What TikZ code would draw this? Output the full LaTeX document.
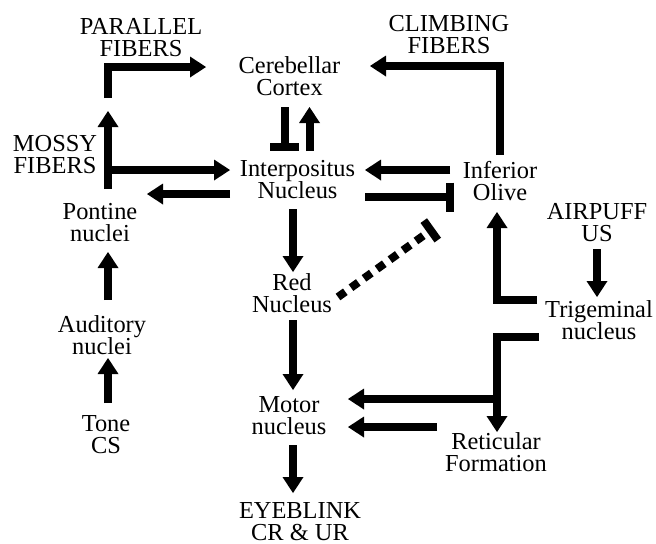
\documentclass[tikz,border=0pt]{standalone}
\usepackage{fontspec}
\setmainfont{Liberation Serif}
\usetikzlibrary{arrows.meta}
\newcommand{\twoline}[2]{\vtop{\baselineskip=11pt\lineskiplimit=-20pt\lineskip=0pt\halign{\hfil##\hfil\cr #1\cr #2\cr}}}
\begin{document}
\begin{tikzpicture}[x=0.5pt,y=-0.5pt,
  lbl/.style={anchor=base,inner sep=0pt,font=\fontsize{12.2}{11}\selectfont},
  conn/.style={line width=4pt, line join=miter, -{Triangle[width=10.5pt,length=8pt,line width=0pt]}},
  inhib/.style={line width=4pt, line join=miter, -{Bar[width=14.5pt]}},
  dotinh/.style={line width=4pt, dash pattern=on 4.5pt off 3.5pt, -{Bar[width=12pt]}},
  plain/.style={line width=4pt, line join=miter}]
\useasboundingbox (0,0) rectangle (656,543);
% labels
\node[lbl] (pf) at (141,34)   {\twoline{PARALLEL}{FIBERS}};
\node[lbl] (cf) at (449,31)   {\twoline{CLIMBING}{FIBERS}};
\node[lbl] (cc) at (289.5,73) {\twoline{Cerebellar}{Cortex}};
\node[lbl] (mf) at (55,151)   {\twoline{MOSSY}{FIBERS}};
\node[lbl] (ip) at (297.5,176){\twoline{Interpositus}{Nucleus}};
\node[lbl] (io) at (500,178)  {\twoline{Inferior}{Olive}};
\node[lbl] (pn) at (100,219)  {\twoline{Pontine}{nuclei}};
\node[lbl] (ap) at (597,219)  {\twoline{AIRPUFF}{US}};
\node[lbl] (rn) at (292,290)  {\twoline{Red}{Nucleus}};
\node[lbl] (tg) at (599,317)  {\twoline{Trigeminal}{nucleus}};
\node[lbl] (an) at (102,332)  {\twoline{Auditory}{nuclei}};
\node[lbl] (tc) at (106,431)  {\twoline{Tone}{CS}};
\node[lbl] (mn) at (289,412)  {\twoline{Motor}{nucleus}};
\node[lbl] (eb) at (300,518)  {\twoline{EYEBLINK}{CR \& UR}};
\node[lbl] (rf) at (496,449)  {\twoline{Reticular}{Formation}};
% connector end points
\coordinate (pfS) at (108,98);  \coordinate (pfC) at (108,67);  \coordinate (pfE) at (206,67);
\coordinate (mfS) at (108,189); \coordinate (mfE) at (108,111);
\coordinate (mfB) at (108,170); \coordinate (mfT) at (230,170);
\coordinate (ipL) at (230,194); \coordinate (pnR) at (147,194);
\coordinate (ccI) at (284.5,107); \coordinate (ipI) at (284.5,151);
\coordinate (ipU) at (309.5,151); \coordinate (ccU) at (309.5,107);
\coordinate (ipD) at (293,209); \coordinate (rnT) at (293,272);
\coordinate (rnD) at (293,320); \coordinate (mnT) at (293,390);
\coordinate (mnD) at (293,445); \coordinate (ebT) at (293,493);
\coordinate (tcT) at (108,403); \coordinate (anB) at (108,358);
\coordinate (anT) at (108,300); \coordinate (pnB) at (108,252);
\coordinate (ioL) at (450,170); \coordinate (ipR) at (365,170);
\coordinate (ipR2) at (365,197); \coordinate (ioL2) at (454,197);
\coordinate (ioT) at (500,155); \coordinate (cfC) at (500,66); \coordinate (ccR) at (370,66);
\coordinate (rnR) at (338,297); \coordinate (ioD) at (434,228);
\coordinate (tgL) at (537,300); \coordinate (tgC) at (497,300); \coordinate (ioB) at (497,212);
\coordinate (apB) at (597,249); \coordinate (tgT) at (597,297);
\coordinate (tgL2) at (539,337); \coordinate (rfC) at (497,337); \coordinate (rfT) at (497,432);
\coordinate (rfB) at (497,399); \coordinate (mnR) at (348,399);
\coordinate (rfL) at (437,427); \coordinate (mnR2) at (348,427);
% connectors
\draw[conn] (pfS) -- (pfC) -- (pfE);
\draw[conn] (mfS) -- (mfE);
\draw[conn] (mfB) -- (mfT);
\draw[conn] (ipL) -- (pnR);
\draw[inhib] (ccI) -- (ipI);
\draw[conn] (ipU) -- (ccU);
\draw[conn] (ipD) -- (rnT);
\draw[conn] (rnD) -- (mnT);
\draw[conn] (mnD) -- (ebT);
\draw[conn] (tcT) -- (anB);
\draw[conn] (anT) -- (pnB);
\draw[conn] (ioL) -- (ipR);
\draw[inhib] (ipR2) -- (ioL2);
\draw[conn] (ioT) -- (cfC) -- (ccR);
\draw[dotinh] (rnR) -- (ioD);
\draw[conn] (tgL) -- (tgC) -- (ioB);
\draw[conn] (apB) -- (tgT);
\draw[conn] (tgL2) -- (rfC) -- (rfT);
\draw[conn] (rfB) -- (mnR);
\draw[conn] (rfL) -- (mnR2);
\end{tikzpicture}
\end{document}
